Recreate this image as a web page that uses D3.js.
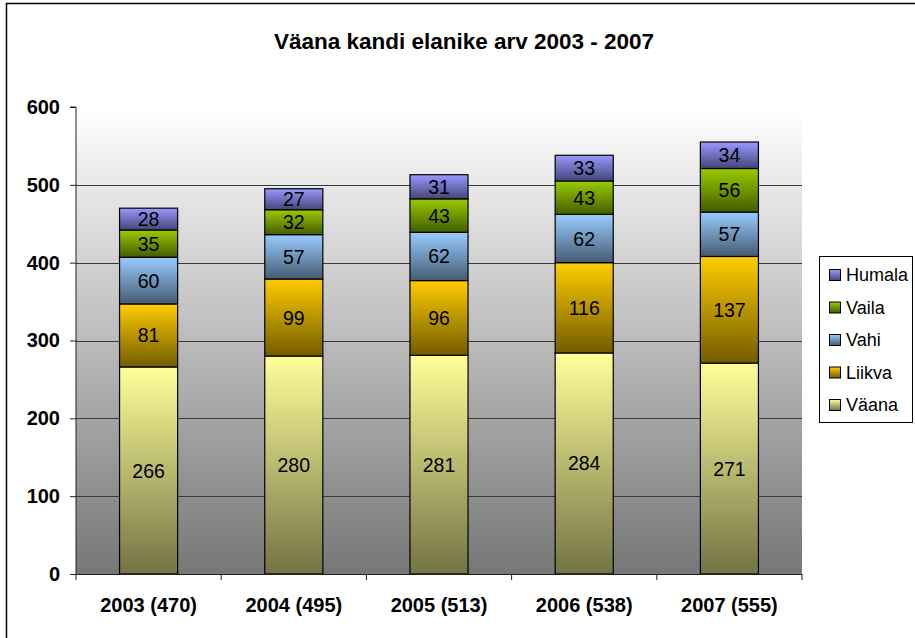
<!DOCTYPE html>
<html><head><meta charset="utf-8">
<script src="https://cdn.jsdelivr.net/npm/d3@7"></script>
<style>
html,body{margin:0;padding:0;background:#fff;}
svg{display:block;font-family:"Liberation Sans",Arial,sans-serif;}
</style></head>
<body><svg id="c" width="915" height="638"></svg>
<script>
const title = "Väana kandi elanike arv 2003 - 2007";
const categories = ["2003 (470)", "2004 (495)", "2005 (513)", "2006 (538)", "2007 (555)"];
const seriesNames = ["Väana", "Liikva", "Vahi", "Vaila", "Humala"];
const vaana  = [266, 280, 281, 284, 271];
const liikva = [81, 99, 96, 116, 137];
const vahi   = [60, 57, 62, 62, 57];
const vaila  = [35, 32, 43, 43, 56];
const humala = [28, 27, 31, 33, 34];
const yTicks = [0, 100, 200, 300, 400, 500, 600];
const topColors = ["#ffff99", "#ffcc00", "#99ccff", "#99cc00", "#9999ff"];
const bottomColors = ["#737345", "#735c00", "#455c73", "#455c00", "#45457a"];

const seriesValues = [vaana, liikva, vahi, vaila, humala];
const rows = categories.map((c, i) => {
  const r = {cat: c};
  seriesNames.forEach((s, k) => r[s] = seriesValues[k][i]);
  return r;
});

const svg = d3.select("#c");
const defs = svg.append("defs");

// outer frame
svg.append("rect").attr("x", 6.5).attr("y", 3.5).attr("width", 915).attr("height", 640)
  .attr("fill", "#fff").attr("stroke", "#000").attr("stroke-width", 1.5);

const m = {left: 76, right: 802, top: 107, bottom: 574};
const x = d3.scaleBand().domain(categories).range([m.left, m.right]).paddingInner(0.6).paddingOuter(0.3);
const y = d3.scaleLinear().domain([0, 600]).range([m.bottom, m.top]);

// plot background gradient
const bg = defs.append("linearGradient").attr("id", "bg").attr("x1", 0).attr("y1", 0).attr("x2", 0).attr("y2", 1);
bg.append("stop").attr("offset", 0).attr("stop-color", "#ffffff");
bg.append("stop").attr("offset", 1).attr("stop-color", "#777777");
svg.append("rect").attr("x", m.left).attr("y", m.top).attr("width", m.right - m.left).attr("height", m.bottom - m.top)
  .attr("fill", "url(#bg)");

// gridlines
svg.append("g").selectAll("line").data(yTicks.filter(t => t > 0 && t < 600)).join("line")
  .attr("x1", m.left).attr("x2", m.right).attr("y1", d => Math.round(y(d)) + 0.5).attr("y2", d => Math.round(y(d)) + 0.5)
  .attr("stroke", "#3a3a3a").attr("stroke-width", 1);

// series gradients
seriesNames.forEach((s, k) => {
  const g = defs.append("linearGradient").attr("id", "g" + k).attr("x1", 0).attr("y1", 0).attr("x2", 0).attr("y2", 1);
  g.append("stop").attr("offset", 0).attr("stop-color", topColors[k]);
  g.append("stop").attr("offset", 1).attr("stop-color", bottomColors[k]);
});

const stack = d3.stack().keys(seriesNames)(rows);
const gBars = svg.append("g");
stack.forEach((layer, k) => {
  gBars.append("g").selectAll("rect").data(layer).join("rect")
    .attr("x", d => x(d.data.cat))
    .attr("y", d => y(d[1]))
    .attr("width", x.bandwidth())
    .attr("height", d => y(d[0]) - y(d[1]))
    .attr("fill", "url(#g" + k + ")")
    .attr("stroke", "#000").attr("stroke-width", 1.2);
});
// value labels
stack.forEach((layer, k) => {
  gBars.append("g").selectAll("text").data(layer).join("text")
    .attr("x", d => x(d.data.cat) + x.bandwidth() / 2)
    .attr("y", d => (y(d[0]) + y(d[1])) / 2)
    .attr("dy", "0.36em")
    .attr("text-anchor", "middle")
    .attr("font-size", 19.5).attr("fill", "#000")
    .text(d => d.data[layer.key]);
});

// y axis
const yAxis = d3.axisLeft(y).tickValues(yTicks).tickSize(6).tickPadding(10);
const ya = svg.append("g").attr("transform", `translate(${m.left},0)`).call(yAxis);
ya.select(".domain").attr("stroke", "#222").attr("d", `M-6,${y(600)}H0V${y(0)}`);
ya.selectAll(".tick line").attr("stroke", "#222");
ya.selectAll("text").attr("font-size", 20).attr("font-weight", "bold").attr("font-family", "Liberation Sans, Arial, sans-serif").attr("fill", "#000");

// x axis
const xa = svg.append("g").attr("transform", `translate(0,${m.bottom})`);
xa.append("line").attr("x1", m.left).attr("x2", m.right).attr("y1", 0.5).attr("y2", 0.5).attr("stroke", "#222").attr("stroke-width", 1.2);
const bounds = [m.left].concat(categories.map(c => x(c) + x.bandwidth() + x.step() * x.paddingInner() / 2));
bounds[bounds.length - 1] = m.right;
xa.selectAll(".xt").data(bounds).join("line").attr("class", "xt")
  .attr("x1", d => d).attr("x2", d => d).attr("y1", 0).attr("y2", 6).attr("stroke", "#222");
xa.selectAll(".xl").data(categories).join("text").attr("class", "xl")
  .attr("x", d => x(d) + x.bandwidth() / 2).attr("y", 38)
  .attr("text-anchor", "middle").attr("font-size", 20).attr("font-weight", "bold").text(d => d);

// title
svg.append("text").attr("x", 464).attr("y", 49).attr("text-anchor", "middle")
  .attr("font-size", 22.5).attr("font-weight", "bold").text(title);

// legend
const lg = svg.append("g");
lg.append("rect").attr("x", 819.5).attr("y", 256.5).attr("width", 93).attr("height", 166)
  .attr("fill", "#fff").attr("stroke", "#000").attr("stroke-width", 1);
const legendOrder = seriesNames.map((s, k) => k).reverse();
const items = lg.selectAll(".li").data(legendOrder).join("g").attr("class", "li")
  .attr("transform", (d, i) => `translate(0,${275 + i * 32.5})`);
items.append("rect").attr("x", 829.5).attr("y", -5.5).attr("width", 11).attr("height", 11)
  .attr("fill", d => "url(#g" + d + ")").attr("stroke", "#000").attr("stroke-width", 1);
items.append("text").attr("x", 846).attr("y", 0).attr("dy", "0.36em").attr("font-size", 18)
  .text(d => seriesNames[d]);
</script></body></html>
